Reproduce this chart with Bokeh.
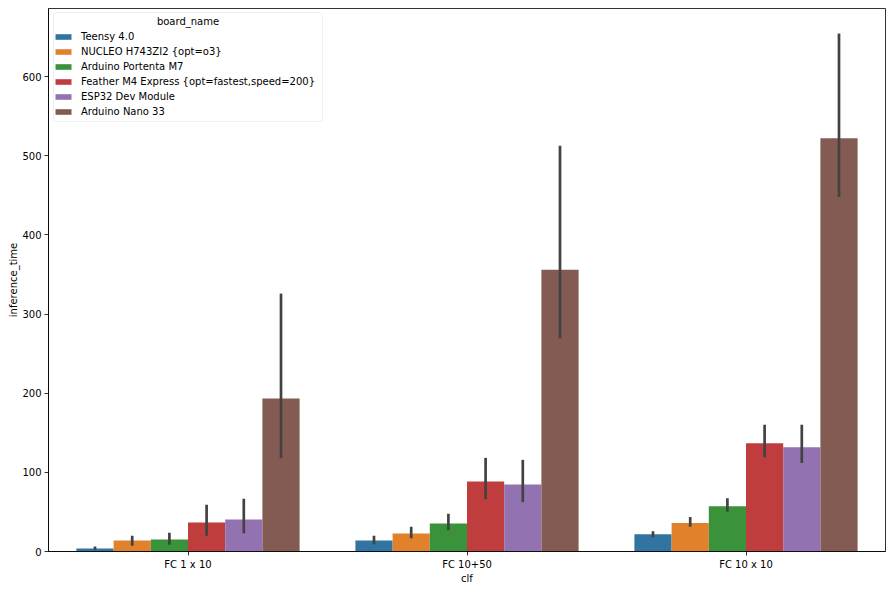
from bokeh.plotting import figure
from bokeh.models import (FactorRange, Range1d, ColumnDataSource, Legend, LegendItem,
                          FixedTicker, BoxAnnotation, Label)
from bokeh.transform import dodge
from bokeh.embed import file_html
from bokeh.resources import INLINE

categories = ["FC 1 x 10", "FC 10+50", "FC 10 x 10"]
boards = ["Teensy 4.0", "NUCLEO H743ZI2 {opt=o3}", "Arduino Portenta M7",
          "Feather M4 Express {opt=fastest,speed=200}", "ESP32 Dev Module", "Arduino Nano 33"]
colors = ["#3274a1", "#e1812c", "#3a923a", "#c03d3e", "#9372b2", "#845b53"]

# mean inference_time per board, ordered by categories
teensy_mean = [3.8, 13.9, 21.8]
nucleo_mean = [13.9, 22.7, 36.1]
portenta_mean = [15.2, 35.4, 57.3]
feather_mean = [36.6, 88.4, 136.9]
esp32_mean = [40.4, 84.6, 131.7]
nano_mean = [193.2, 356.0, 522.2]

# confidence interval low / high
teensy_lo = [2.1, 9.3, 17.6]
teensy_hi = [6.3, 19.8, 25.6]
nucleo_lo = [7.2, 16.8, 31.3]
nucleo_hi = [19.8, 31.2, 43.7]
portenta_lo = [8.4, 26.9, 50.2]
portenta_hi = [23.6, 47.6, 67.3]
feather_lo = [19.8, 66.1, 119.0]
feather_hi = [59.0, 118.3, 160.1]
esp32_lo = [23.1, 62.3, 111.9]
esp32_hi = [66.5, 115.8, 160.1]
nano_lo = [117.8, 269.4, 448.0]
nano_hi = [325.8, 512.6, 654.4]

y_ticks = [0, 100, 200, 300, 400, 500, 600]
legend_title = "board_name"

means = [teensy_mean, nucleo_mean, portenta_mean, feather_mean, esp32_mean, nano_mean]
los = [teensy_lo, nucleo_lo, portenta_lo, feather_lo, esp32_lo, nano_lo]
his = [teensy_hi, nucleo_hi, portenta_hi, feather_hi, esp32_hi, nano_hi]

FONT = "DejaVu Sans"

p = figure(width=888, height=586,
           x_range=FactorRange(*categories, range_padding=0),
           y_range=Range1d(0, 686),
           output_backend="svg", toolbar_location=None,
           min_border_left=48, min_border_right=3, min_border_top=8, min_border_bottom=35)

p.background_fill_color = "white"
p.border_fill_color = "white"
p.grid.visible = False
p.outline_line_color = "black"
p.outline_line_width = 0.8

n = len(boards)
bw = 0.8 / n
items = []
for i, (b, c) in enumerate(zip(boards, colors)):
    off = (i - (n - 1) / 2) * bw
    src = ColumnDataSource(dict(clf=categories, value=means[i], lo=los[i], hi=his[i]))
    r = p.vbar(x=dodge("clf", off, range=p.x_range), top="value", width=bw, bottom=0,
               fill_color=c, line_color=None, source=src)
    p.segment(x0=dodge("clf", off, range=p.x_range), y0="lo",
              x1=dodge("clf", off, range=p.x_range), y1="hi",
              line_color="#424242", line_width=2.7, source=src)
    items.append(LegendItem(label=b, renderers=[r]))

# legend frame (screen units relative to the plot frame, origin bottom-left)
box = BoxAnnotation(left=5, right=274, top=539, bottom=430,
                    left_units="screen", right_units="screen",
                    top_units="screen", bottom_units="screen",
                    fill_color="white", fill_alpha=0.8,
                    line_color="#cccccc", line_width=1, border_radius=3)
p.add_layout(box)

legend = Legend(items=items, location=(5, 434),
                label_text_font=FONT, label_text_font_size="10px", label_text_color="black",
                glyph_width=20, glyph_height=7, label_standoff=8, label_height=12,
                spacing=3, padding=4, margin=0,
                border_line_color=None, background_fill_alpha=0)
p.add_layout(legend)

title = Label(x=139.5, y=530, x_units="screen", y_units="screen", text=legend_title,
              text_font=FONT, text_font_size="10px", text_color="black",
              text_align="center", text_baseline="middle")
p.add_layout(title)

for ax in (p.xaxis[0], p.yaxis[0]):
    ax.axis_line_color = "black"
    ax.axis_line_width = 0.8
    ax.major_tick_line_color = "black"
    ax.major_tick_line_width = 0.8
    ax.major_tick_out = 4
    ax.major_tick_in = 0
    ax.minor_tick_line_color = None
    ax.major_label_text_font = FONT
    ax.major_label_text_font_size = "10px"
    ax.major_label_text_color = "black"
    ax.axis_label_text_font = FONT
    ax.axis_label_text_font_size = "10px"
    ax.axis_label_text_font_style = "normal"
    ax.axis_label_text_color = "black"
    ax.major_label_standoff = 3
    ax.axis_label_standoff = 0

p.xaxis.axis_label = "clf"
p.yaxis.axis_label = "inference_time"
p.yaxis.ticker = FixedTicker(ticks=y_ticks)

open("out.html", "w").write(file_html(p, INLINE))
